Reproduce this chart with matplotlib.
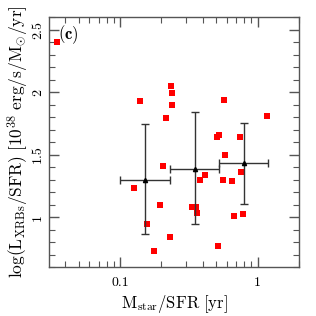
import matplotlib
matplotlib.use("Agg")
import matplotlib.pyplot as plt
from matplotlib.ticker import MultipleLocator, LogLocator, FixedLocator, FixedFormatter, NullFormatter

plt.rcParams['mathtext.fontset'] = 'cm'
plt.rcParams['font.family'] = 'serif'
plt.rcParams['font.serif'] = ['cmr10', 'DejaVu Serif']
plt.rcParams['axes.formatter.use_mathtext'] = True

# individual galaxies
mstar_sfr = [0.035, 0.140, 0.237, 0.241, 0.241, 0.215, 0.571, 1.18, 0.504, 0.521,
             0.744, 0.579, 0.204, 0.126, 0.195, 0.156, 0.232, 0.177, 0.333, 0.355,
             0.364, 0.381, 0.414, 0.512, 0.557, 0.651, 0.673, 0.778, 0.753]
log_lx_sfr = [2.40, 1.93, 2.045, 1.99, 1.90, 1.79, 1.94, 1.81, 1.64, 1.656,
              1.64, 1.50, 1.41, 1.23, 1.10, 0.944, 0.84, 0.728, 1.08, 1.077,
              1.034, 1.30, 1.34, 0.768, 1.30, 1.29, 1.01, 1.026, 1.357]

# binned averages
bin_x = [0.152, 0.349, 0.80]
bin_xlo = [0.100, 0.232, 0.526]
bin_xhi = [0.232, 0.526, 1.20]
bin_y = [1.30, 1.386, 1.432]
bin_ylo = [0.866, 0.941, 1.106]
bin_yhi = [1.744, 1.837, 1.752]

fig = plt.figure(figsize=(3.16, 3.16), dpi=100)
ax = fig.add_axes([0.155, 0.155, 0.791, 0.791])

ax.plot(mstar_sfr, log_lx_sfr, 's', color='red', markersize=4.0, markeredgewidth=0, zorder=3)

xerr = [[b - l for b, l in zip(bin_x, bin_xlo)], [h - b for b, h in zip(bin_x, bin_xhi)]]
yerr = [[b - l for b, l in zip(bin_y, bin_ylo)], [h - b for b, h in zip(bin_y, bin_yhi)]]
ax.errorbar(bin_x, bin_y, xerr=xerr, yerr=yerr, fmt='^', color='black', ecolor='#333333',
            markersize=3, elinewidth=1.0, capsize=3, capthick=1.0, zorder=4)

ax.set_xscale('log')
ax.set_xlim(0.0305, 2.0)
ax.set_ylim(0.6, 2.6)

ax.xaxis.set_major_locator(FixedLocator([0.1, 1.0]))
ax.xaxis.set_major_formatter(FixedFormatter(['0.1', '1']))
ax.xaxis.set_minor_locator(LogLocator(base=10, subs=range(2, 10), numticks=20))
ax.xaxis.set_minor_formatter(NullFormatter())
ax.yaxis.set_major_locator(FixedLocator([1.0, 1.5, 2.0, 2.5]))
ax.yaxis.set_major_formatter(FixedFormatter(['1', '1.5', '2', '2.5']))
ax.yaxis.set_minor_locator(MultipleLocator(0.1))

ax.tick_params(which='both', direction='in', top=True, right=True, color='#555555', labelsize=10)
ax.tick_params(axis='x', which='major', pad=7)
ax.tick_params(which='major', length=7, width=1.0)
ax.tick_params(which='minor', length=4, width=0.8)
for lab in ax.get_yticklabels():
    lab.set_rotation(90)
    lab.set_va('center')
for s in ax.spines.values():
    s.set_color('#555555')
    s.set_linewidth(1.0)

ax.set_xlabel(r'$\mathrm{M_{star}/SFR\ [yr]}$', fontsize=12, labelpad=3)
ax.set_ylabel(r'$\log(\mathrm{L_{XRBs}/SFR})\ [10^{38}\ \mathrm{erg/s/M_{\odot}/yr}]$', fontsize=12.5, labelpad=1)

ax.text(0.035, 0.975, r'$\mathbf{(c)}$', transform=ax.transAxes, fontsize=12,
        va='top', ha='left')

fig.savefig('out.png', dpi=100)
